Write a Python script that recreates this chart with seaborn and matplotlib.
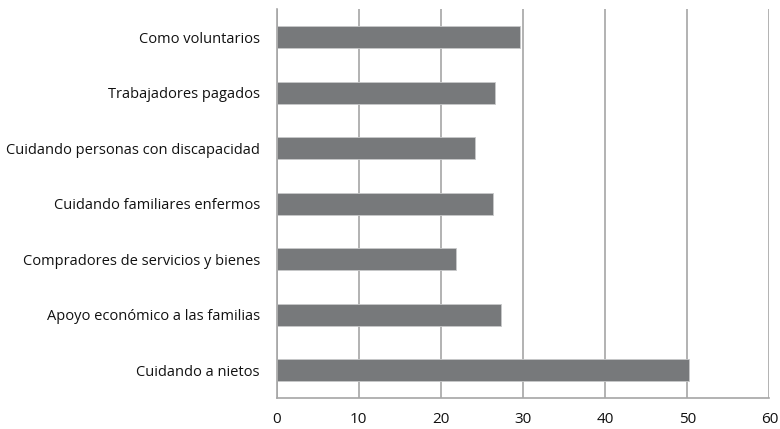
import numpy as np
import pandas as pd
import matplotlib
matplotlib.use("Agg")
import matplotlib.pyplot as plt
import seaborn as sns

categories = [
    "Como voluntarios",
    "Trabajadores pagados",
    "Cuidando personas con discapacidad",
    "Cuidando familiares enfermos",
    "Compradores de servicios y bienes",
    "Apoyo económico a las familias",
    "Cuidando a nietos",
]
values = [29.6, 26.6, 24.1, 26.35, 21.9, 27.3, 50.2]
x_ticks = [0, 10, 20, 30, 40, 50, 60]

df = pd.DataFrame({"categoria": categories, "valor": values})

sns.set_style("white")
plt.rcParams["font.family"] = ["Open Sans", "DejaVu Sans"]

fig = plt.figure(figsize=(7.8, 4.29), dpi=100)
ax = fig.add_axes([0.3547, 0.0723, 0.6316, 0.9057])

sns.barplot(data=df, x="valor", y="categoria", orient="h", color="#77797b",
            saturation=1, width=0.4, edgecolor="#c8c9ca", linewidth=0.6, ax=ax)

ax.set_xlim(0, 60)
ax.set_ylim(len(categories) - 0.5, -0.5)
ax.set_xticks(x_ticks)
ax.set_xticklabels([str(t) for t in x_ticks])
ax.set_xlabel("")
ax.set_ylabel("")

ax.xaxis.grid(True, color="#a6a6a6", linewidth=1.2)
ax.set_axisbelow(True)

for side in ["top", "right"]:
    ax.spines[side].set_visible(False)
for side in ["left", "bottom"]:
    ax.spines[side].set_color("#a6a6a6")
    ax.spines[side].set_linewidth(1.2)

ax.tick_params(axis="x", which="major", direction="out", length=5, width=1.2,
               color="#a6a6a6", labelsize=11, labelcolor="#111111", pad=5)
ax.tick_params(axis="y", which="major", length=0, labelsize=10.5,
               labelcolor="#111111", pad=12)
ax.set_yticks(np.arange(-0.5, len(categories), 1.0), minor=True)
ax.tick_params(axis="y", which="minor", direction="out", length=5, width=1.2,
               color="#a6a6a6")

fig.savefig("out.png", dpi=100)
